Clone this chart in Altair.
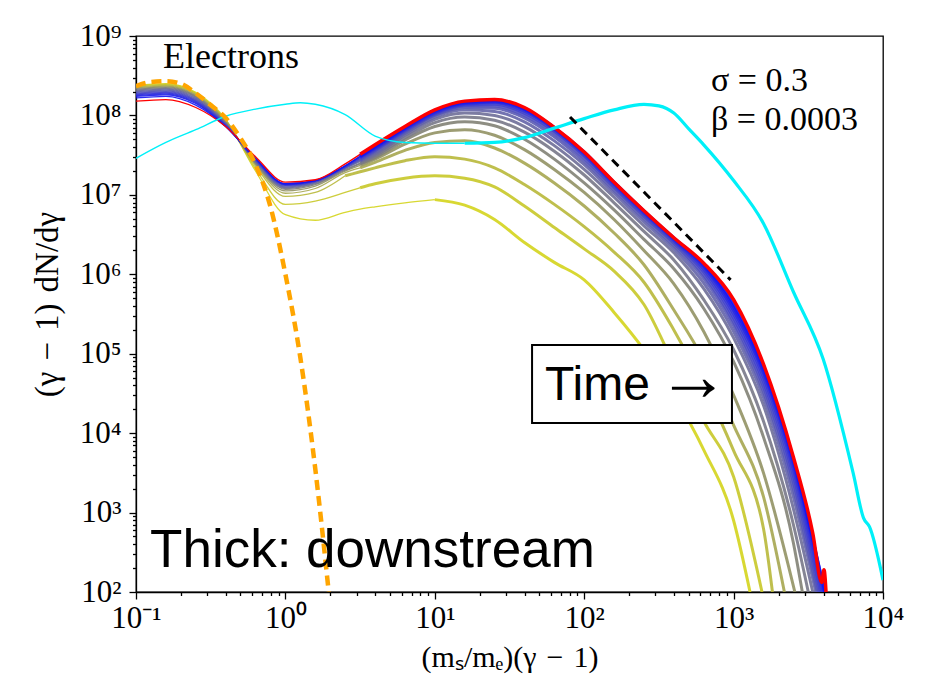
import json
import altair as alt
import pandas as pd

# ---- data (log10 units) ----
GRID = [-1.0, -0.8, -0.6, -0.4, -0.2, 0.0, 0.2, 0.4, 0.5, 0.6, 0.8, 1.0,
        1.2, 1.4, 1.6, 1.8, 2.0, 2.2, 2.4, 2.6, 2.8, 3.0, 3.2, 3.4]

C01 = [8.38, 8.40, 8.29, 7.95, 7.30, 6.75, 6.68, 6.78, 6.82, 6.85, 6.90, 6.94, 6.87, 6.69, 6.40, 6.15, 5.93, 5.52, 5.05, 4.48, 3.79, 2.90]
C02 = [8.37, 8.39, 8.28, 7.94, 7.33, 6.88, 6.92, 7.03, 7.09, 7.14, 7.21, 7.24, 7.21, 7.10, 6.86, 6.59, 6.32, 6.04, 5.62, 4.87, 4.15, 3.45]
C03 = [8.36, 8.38, 8.27, 7.94, 7.36, 6.98, 7.03, 7.24, 7.29, 7.34, 7.43, 7.48, 7.45, 7.34, 7.13, 6.88, 6.60, 6.28, 5.90, 5.30, 4.60, 3.78, 2.80]
C04 = [8.35, 8.37, 8.26, 7.93, 7.38, 7.02, 7.08, 7.28, 7.34, 7.41, 7.56, 7.66, 7.68, 7.59, 7.40, 7.15, 6.86, 6.52, 6.12, 5.55, 4.92, 4.10, 3.20]
C05 = [8.34, 8.36, 8.25, 7.92, 7.39, 7.05, 7.11, 7.30, 7.37, 7.45, 7.64, 7.78, 7.82, 7.75, 7.57, 7.32, 7.03, 6.69, 6.30, 5.88, 5.28, 4.48, 3.50]
C06 = [8.33, 8.35, 8.24, 7.91, 7.40, 7.07, 7.13, 7.31, 7.39, 7.47, 7.69, 7.86, 7.92, 7.87, 7.70, 7.45, 7.15, 6.81, 6.44, 6.07, 5.57, 4.90, 3.95, 2.62]
C07 = [8.32, 8.34, 8.23, 7.90, 7.41, 7.08, 7.14, 7.32, 7.40, 7.49, 7.72, 7.91, 7.98, 7.94, 7.79, 7.55, 7.25, 6.90, 6.54, 6.18, 5.68, 5.05, 4.15, 2.85]
C08 = [8.31, 8.33, 8.22, 7.90, 7.42, 7.09, 7.15, 7.33, 7.42, 7.51, 7.75, 7.95, 8.03, 8.00, 7.86, 7.62, 7.32, 6.97, 6.61, 6.27, 5.82, 5.20, 4.35, 3.05]
C09 = [8.30, 8.32, 8.21, 7.89, 7.43, 7.10, 7.16, 7.34, 7.43, 7.53, 7.77, 7.98, 8.07, 8.05, 7.92, 7.68, 7.38, 7.02, 6.66, 6.32, 5.89, 5.28, 4.45, 3.20]
C10 = [8.29, 8.31, 8.20, 7.89, 7.43, 7.11, 7.16, 7.34, 7.44, 7.55, 7.79, 8.00, 8.10, 8.09, 7.97, 7.73, 7.42, 7.06, 6.70, 6.36, 5.95, 5.35, 4.52, 3.30]
C11 = [8.28, 8.30, 8.19, 7.88, 7.44, 7.12, 7.17, 7.35, 7.45, 7.56, 7.80, 8.01, 8.12, 8.12, 8.00, 7.77, 7.46, 7.09, 6.73, 6.39, 5.99, 5.40, 4.58, 3.38]
C12 = [8.27, 8.29, 8.18, 7.88, 7.44, 7.12, 7.17, 7.35, 7.46, 7.57, 7.81, 8.02, 8.13, 8.14, 8.03, 7.80, 7.49, 7.11, 6.75, 6.41, 6.03, 5.45, 4.64, 3.46]
C13 = [8.26, 8.28, 8.17, 7.87, 7.45, 7.13, 7.18, 7.36, 7.47, 7.58, 7.82, 8.03, 8.14, 8.16, 8.05, 7.82, 7.51, 7.13, 6.77, 6.43, 6.06, 5.50, 4.70, 3.53]
C14 = [8.25, 8.27, 8.16, 7.87, 7.45, 7.13, 7.18, 7.36, 7.48, 7.59, 7.83, 8.04, 8.15, 8.17, 8.07, 7.83, 7.52, 7.14, 6.78, 6.44, 6.09, 5.54, 4.75, 3.59]
C15 = [8.24, 8.26, 8.15, 7.86, 7.46, 7.14, 7.18, 7.36, 7.48, 7.60, 7.84, 8.05, 8.16, 8.18, 8.08, 7.84, 7.53, 7.15, 6.79, 6.45, 6.11, 5.58, 4.79, 3.64]
C16 = [8.22, 8.24, 8.13, 7.86, 7.46, 7.14, 7.18, 7.37, 7.49, 7.61, 7.85, 8.06, 8.17, 8.19, 8.09, 7.85, 7.54, 7.16, 6.80, 6.46, 6.13, 5.62, 4.83, 3.67]
TIME_CURVES = [C01, C02, C03, C04, C05, C06, C07, C08, C09, C10, C11, C12, C13, C14, C15, C16]
END_X = [3.11, 3.19, 3.26, 3.34, 3.41, 3.46, 3.50, 3.53, 3.55, 3.56, 3.57, 3.58, 3.59, 3.60, 3.61, 3.61]
SPLIT_X = [1.0, 0.5, 0.4, 0.5, 0.5, 0.5, 0.5, 0.5, 0.5, 0.5, 0.5, 0.5, 0.5, 0.5, 0.5, 0.5]
COLORS = ["#d4d41c", "#c8c828", "#b8b83a", "#a6a650", "#929264", "#828276",
          "#787888", "#6e6e98", "#6464a8", "#5a5ab4", "#5050c0", "#4444cc",
          "#3838d6", "#2c2ce0", "#2020ea", "#1414f4"]

RED = [8.18, 8.20, 8.10, 7.86, 7.48, 7.16, 7.19, 7.39, 7.51, 7.63, 7.86, 8.07, 8.18, 8.20, 8.10, 7.85, 7.54, 7.16, 6.80, 6.46, 6.14, 5.68, 4.87, 3.70]
RED_TAIL_X = [3.53, 3.59, 3.605, 3.62]
RED_TAIL_Y = [2.74, 2.12, 2.28, 1.95]
RED_SPLIT = 0.5

CYAN_X = [-1.0, -0.8, -0.6, -0.4, -0.2, 0.0, 0.1, 0.2, 0.4, 0.6, 0.8, 1.0, 1.2, 1.4, 1.6, 1.8,
          2.0, 2.2, 2.4, 2.5, 2.6, 2.7, 2.8, 3.0, 3.2, 3.4, 3.6, 3.8, 3.87, 3.91, 4.0]
CYAN_Y = [7.46, 7.66, 7.82, 7.99, 8.08, 8.14, 8.16, 8.14, 8.01, 7.74, 7.66, 7.65, 7.65, 7.66, 7.72, 7.84,
          7.96, 8.07, 8.14, 8.12, 8.03, 7.83, 7.63, 7.18, 6.64, 5.78, 4.93, 3.50, 2.93, 2.82, 2.15]
CYAN_SPLIT = 1.2

ORANGE_X = [-1.0, -0.9, -0.8, -0.7, -0.6, -0.5, -0.4, -0.3, -0.2, -0.1, 0.0, 0.1, 0.2, 0.29]
ORANGE_Y = [8.37, 8.42, 8.43, 8.40, 8.28, 8.13, 7.97, 7.71, 7.38, 6.85, 6.00, 4.95, 3.55, 2.00]

BLACK_X = [1.905, 2.98]
BLACK_Y = [7.98, 5.93]

X_MAJOR = [0.1, 1, 10, 100, 1000, 10000]
X_LABELS = ["10⁻¹", "10⁰", "10¹", "10²", "10³", "10⁴"]
Y_MAJOR = [100, 1000, 10000, 100000, 1000000, 10000000, 100000000, 1000000000]
Y_LABELS = ["10²", "10³", "10⁴", "10⁵", "10⁶", "10⁷", "10⁸", "10⁹"]

X_TITLE = "(mₛ/mₑ)(γ\u2004−\u20041)"
Y_TITLE = "(γ\u2004−\u20041)\u2004dN/dγ"

# ---- build tables ----
def p(v):
    return 10.0 ** v

rows = []
for i, ys in enumerate(TIME_CURVES):
    name = f"t{i + 1:02d}"
    xs = GRID[:len(ys)] + [END_X[i]]
    yv = ys + [2.0]
    for k, (lx, ly) in enumerate(zip(xs, yv)):
        if lx <= SPLIT_X[i] + 1e-9:
            rows.append(dict(curve=name, seg="thin", k=k, x=p(lx), y=p(ly)))
        if lx >= SPLIT_X[i] - 1e-9:
            rows.append(dict(curve=name, seg="thick", k=k, x=p(lx), y=p(ly)))
df = pd.DataFrame(rows)

red_rows = []
for k, (lx, ly) in enumerate(zip(GRID[:len(RED)] + RED_TAIL_X, RED + RED_TAIL_Y)):
    if lx <= RED_SPLIT + 1e-9:
        red_rows.append(dict(seg="thin", k=k, x=p(lx), y=p(ly)))
    if lx >= RED_SPLIT - 1e-9:
        red_rows.append(dict(seg="thick", k=k, x=p(lx), y=p(ly)))
dred = pd.DataFrame(red_rows)

cy_rows = []
for k, (lx, ly) in enumerate(zip(CYAN_X, CYAN_Y)):
    if lx <= CYAN_SPLIT + 1e-9:
        cy_rows.append(dict(seg="thin", k=k, x=p(lx), y=p(ly)))
    if lx >= CYAN_SPLIT - 1e-9:
        cy_rows.append(dict(seg="thick", k=k, x=p(lx), y=p(ly)))
dcy = pd.DataFrame(cy_rows)

dor = pd.DataFrame(dict(k=range(len(ORANGE_X)), x=[p(v) for v in ORANGE_X], y=[p(v) for v in ORANGE_Y]))
dbk = pd.DataFrame(dict(k=range(len(BLACK_X)), x=[p(v) for v in BLACK_X], y=[p(v) for v in BLACK_Y]))

# ---- axes ----
x_minor = [float(f"{m}e{e}") for e in range(-1, 4) for m in range(2, 10)]
y_minor = [float(f"{m}e{e}") for e in range(2, 9) for m in range(2, 10)]
x_vals = sorted(X_MAJOR + x_minor)
y_vals = sorted(Y_MAJOR + y_minor)

def label_expr(vals, labels):
    v = json.dumps(vals)
    l = json.dumps(labels, ensure_ascii=False)
    return f"indexof({v}, datum.value) >= 0 ? {l}[indexof({v}, datum.value)] : ''"

def major_test(vals):
    return f"indexof({json.dumps(vals)}, datum.value) >= 0"

SERIF = "Liberation Serif"
SANS = "Liberation Sans"

x_axis = alt.Axis(
    values=x_vals, labelExpr=label_expr(X_MAJOR, X_LABELS),
    tickSize={"condition": {"test": major_test(X_MAJOR), "value": 7}, "value": 3.5},
    tickWidth=1.3, tickColor="black", domainColor="black", domainWidth=1.3,
    labelFont=SERIF, labelFontSize=31, labelColor="black", labelPadding=4,
    labelFlush=False, labelOverlap=False, grid=False,
    title=X_TITLE, titleFont=SERIF, titleFontSize=30, titleFontWeight="normal",
    titleColor="black", titleBaseline="alphabetic", titleY=74,
)
y_axis = alt.Axis(
    values=y_vals, labelExpr=label_expr(Y_MAJOR, Y_LABELS),
    tickSize={"condition": {"test": major_test(Y_MAJOR), "value": 7}, "value": 3.5},
    tickWidth=1.3, tickColor="black", domainColor="black", domainWidth=1.3,
    labelFont=SERIF, labelFontSize=31, labelColor="black", labelPadding=8,
    labelFlush=False, labelOverlap=False, grid=False, labelBaseline="middle",
    title=Y_TITLE, titleFont=SERIF, titleFontSize=33, titleFontWeight="normal",
    titleColor="black", titleBaseline="alphabetic", titleAngle=270,
    titleX=-79, titleY=268, titleAlign="center",
)
xs_ = alt.Scale(type="log", domain=[0.1, 10000], nice=False)
ys_ = alt.Scale(type="log", domain=[100, 1e9], nice=False)

def X():
    return alt.X("x:Q", scale=xs_, axis=x_axis)

def Y():
    return alt.Y("y:Q", scale=ys_, axis=y_axis)

names = [f"t{i + 1:02d}" for i in range(len(TIME_CURVES))]
col = alt.Color("curve:N", scale=alt.Scale(domain=names, range=COLORS), legend=None)

thin = alt.Chart(df).transform_filter(alt.datum.seg == "thin").mark_line(
    strokeWidth=1.3, interpolate="monotone", clip=True, opacity=0.9
).encode(x=X(), y=Y(), color=col, order="k:Q")
thick = alt.Chart(df).transform_filter(alt.datum.seg == "thick").mark_line(
    strokeWidth=3.0, interpolate="monotone", clip=True, opacity=0.9
).encode(x=X(), y=Y(), color=col, order="k:Q")

red_thin = alt.Chart(dred).transform_filter(alt.datum.seg == "thin").mark_line(
    strokeWidth=1.3, interpolate="monotone", clip=True, color="#ff0000"
).encode(x=X(), y=Y(), order="k:Q")
red_thick = alt.Chart(dred).transform_filter(alt.datum.seg == "thick").mark_line(
    strokeWidth=3.5, interpolate="monotone", clip=True, color="#ff0000"
).encode(x=X(), y=Y(), order="k:Q")

cy_thin = alt.Chart(dcy).transform_filter(alt.datum.seg == "thin").mark_line(
    strokeWidth=1.4, interpolate="monotone", clip=True, color="#00f0f8"
).encode(x=X(), y=Y(), order="k:Q")
cy_thick = alt.Chart(dcy).transform_filter(alt.datum.seg == "thick").mark_line(
    strokeWidth=3.2, interpolate="monotone", clip=True, color="#00f0f8"
).encode(x=X(), y=Y(), order="k:Q")

orange = alt.Chart(dor).mark_line(
    strokeWidth=4.5, interpolate="monotone", clip=True, color="#ffa500", strokeDash=[10, 6]
).encode(x=X(), y=Y(), order="k:Q")
black = alt.Chart(dbk).mark_line(
    strokeWidth=3, clip=True, color="black", strokeDash=[9, 6]
).encode(x=X(), y=Y(), order="k:Q")

# annotation box (data coordinates)
BOX_X = [p(1.651), p(2.989)]
BOX_Y = [p(5.110), p(4.128)]
box = alt.Chart(pd.DataFrame(dict(x=[BOX_X[0]], x2=[BOX_X[1]], y=[BOX_Y[0]], y2=[BOX_Y[1]]))).mark_rect(
    fill="white", stroke="black", strokeWidth=2
).encode(x=X(), x2="x2:Q", y=Y(), y2="y2:Q")

def note(text, lx, ly, font, size):
    d = pd.DataFrame(dict(t=[text], x=[p(lx)], y=[p(ly)]))
    return alt.Chart(d).mark_text(
        align="left", baseline="alphabetic", font=font, fontSize=size, color="black"
    ).encode(x=X(), y=Y(), text="t:N")

NOTES = [
    ("Electrons", -0.819, 8.597, SERIF, 36),
    ("σ = 0.3", 2.849, 8.308, SERIF, 34),
    ("β = 0.0003", 2.849, 7.817, SERIF, 34),
    ("Time", 1.738, 4.417, SANS, 48),
    ("→", 2.487, 4.418, SERIF, 72),
    ("Thick: downstream", -0.906, 2.315, SANS, 53),
]
notes = [note(*n) for n in NOTES]

chart = alt.layer(
    thin, red_thin, thick, red_thick, cy_thin, cy_thick, orange, black, box, *notes
).properties(
    width=747, height=556,
    autosize=alt.AutoSizeParams(type="none"),
    padding={"left": 136, "top": 36, "right": 44, "bottom": 88},
    background="white",
).configure_view(stroke="black", strokeWidth=1.3)

chart.save("out.html", embed_options={"renderer": "svg", "actions": False})
